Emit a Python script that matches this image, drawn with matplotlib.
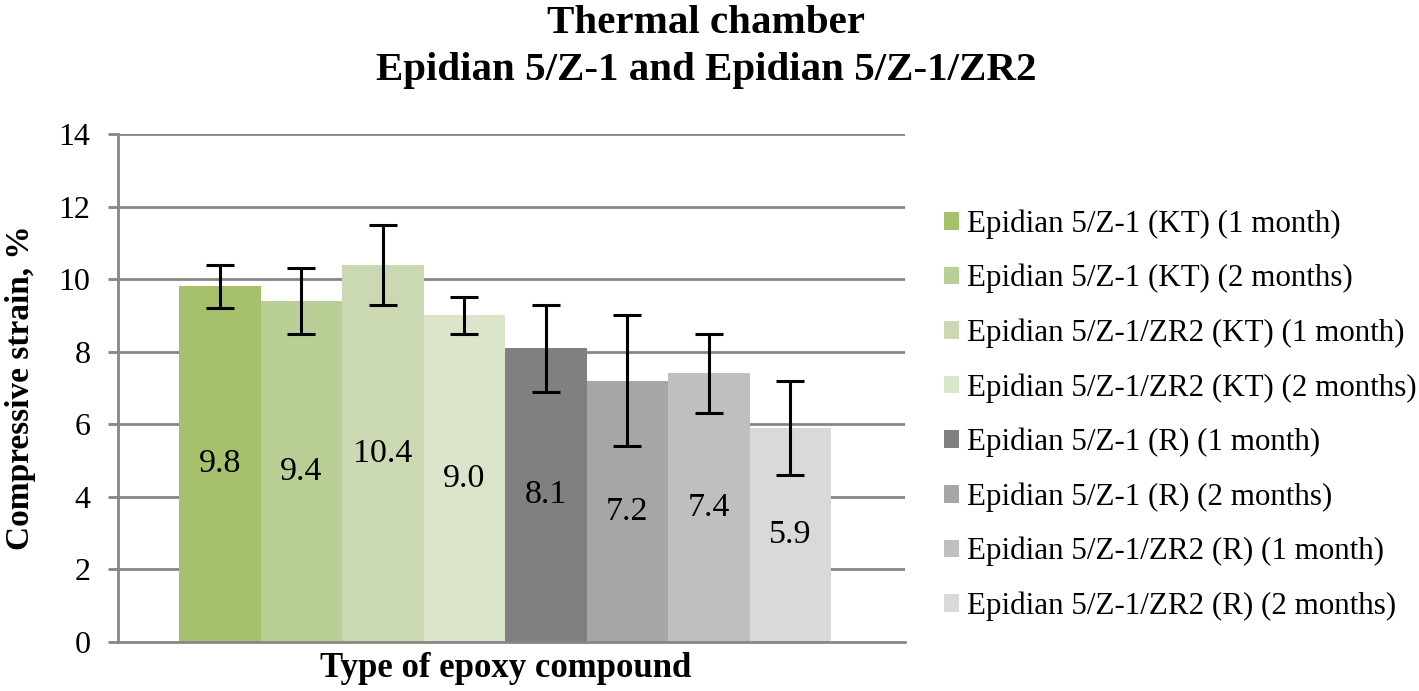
import matplotlib
matplotlib.use("Agg")
import matplotlib.pyplot as plt

series = ["Epidian 5/Z-1 (KT) (1 month)", "Epidian 5/Z-1 (KT) (2 months)",
          "Epidian 5/Z-1/ZR2 (KT) (1 month)", "Epidian 5/Z-1/ZR2 (KT) (2 months)",
          "Epidian 5/Z-1 (R) (1 month)", "Epidian 5/Z-1 (R) (2 months)",
          "Epidian 5/Z-1/ZR2 (R) (1 month)", "Epidian 5/Z-1/ZR2 (R) (2 months)"]
values = [9.8, 9.4, 10.4, 9.0, 8.1, 7.2, 7.4, 5.9]
errors = [0.6, 0.9, 1.1, 0.5, 1.2, 1.8, 1.1, 1.3]
colors = ["#A6C06C", "#BACF96", "#CAD9B1", "#DBE5C9",
          "#808080", "#A6A6A6", "#BFBFBF", "#D9D9D9"]
yticks = [0, 2, 4, 6, 8, 10, 12, 14]

plt.rcParams['font.family'] = ['Liberation Serif', 'DejaVu Serif']

fig = plt.figure(figsize=(14.19, 6.91), dpi=100)
ax = fig.add_axes([0.0832, 0.0709, 0.5546, 0.7352])

grid_c = "#868686"
for y in yticks[1:]:
    ax.axhline(y, color=grid_c, lw=2.0, zorder=0)

for i, (v, e, c, lab) in enumerate(zip(values, errors, colors, series)):
    ax.bar(i, v, width=1.0, color=c, label=lab, zorder=2, linewidth=0)
    ax.errorbar(i, v, yerr=e, fmt='none', ecolor='black', elinewidth=2.2,
                capsize=10, capthick=2.2, zorder=3)
    ax.text(i, v / 2, f"{v:.1f}", ha='center', va='center', fontsize=24.5, zorder=4)

ax.set_xlim(-1.248, 8.408)
ax.set_ylim(0, 14)
ax.set_yticks(yticks)
ax.tick_params(axis='y', labelsize=23, length=7, width=2, color=grid_c, direction='out', pad=13)
ax.tick_params(axis='x', bottom=False, labelbottom=False)
for s in ['top', 'right']:
    ax.spines[s].set_visible(False)
for s in ['left', 'bottom']:
    ax.spines[s].set_color(grid_c)
    ax.spines[s].set_linewidth(2)

ax.set_ylabel("Compressive strain, %", fontsize=24, fontweight='bold', labelpad=16)
ax.set_xlabel("Type of epoxy compound", fontsize=25, fontweight='bold', labelpad=8)
ax.xaxis.set_label_coords(0.492, -0.02, transform=ax.transAxes)
ax.xaxis.label.set_va('top')

fig.text(0.4975, 0.9522, "Thermal chamber", ha='center', va='baseline', fontsize=29.5, fontweight='bold')
fig.text(0.4975, 0.8842, "Epidian 5/Z-1 and Epidian 5/Z-1/ZR2", ha='center', va='baseline', fontsize=29.5, fontweight='bold')

leg = fig.legend(loc='upper left', bbox_to_anchor=(0.6565, 0.715), frameon=False,
                 fontsize=22.3, handlelength=0.5, handleheight=0.5, handletextpad=0.25,
                 labelspacing=0.81, borderaxespad=0)

fig.savefig("out.png", dpi=100)
